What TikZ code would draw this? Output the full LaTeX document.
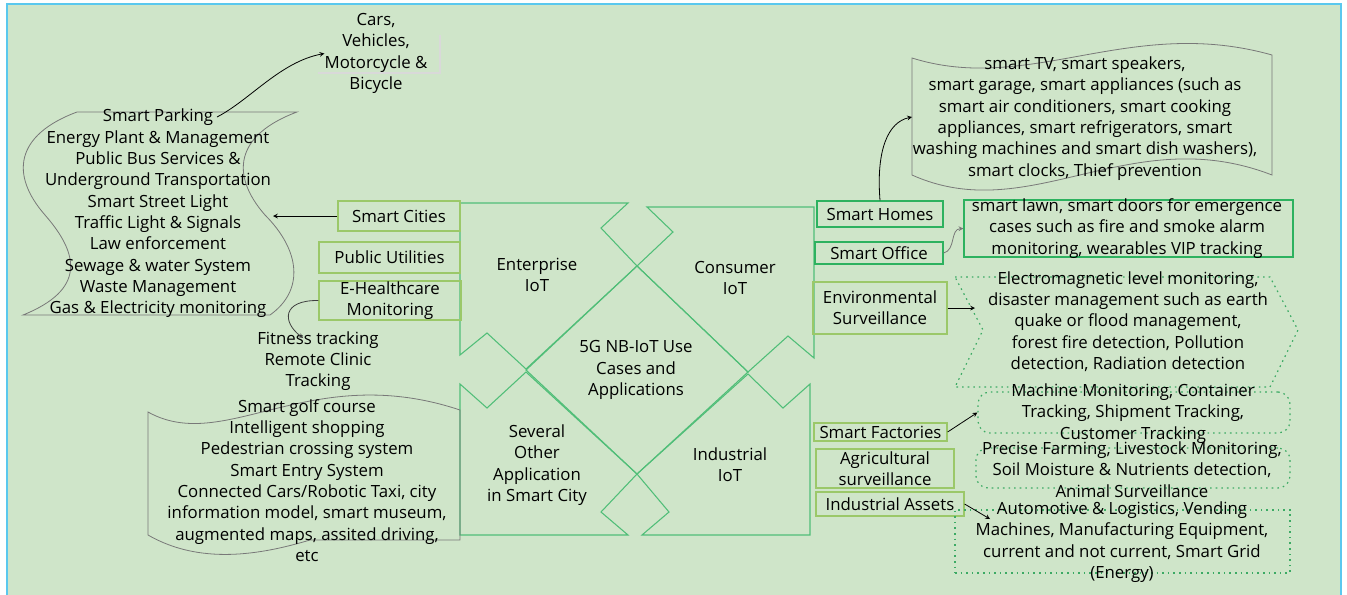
\documentclass[tikz,border=0pt]{standalone}
\usepackage{fontspec}
\setmainfont{Open Sans}
\usepackage{tikz}
\definecolor{bg}{RGB}{207,229,201}
\definecolor{frame}{RGB}{90,200,238}
\definecolor{qgreen}{RGB}{80,190,120}
\definecolor{bgreen}{RGB}{45,178,95}
\definecolor{ogreen}{RGB}{155,200,105}
\definecolor{dgreen}{RGB}{60,170,100}
\definecolor{wgray}{RGB}{120,120,120}

\begin{document}
\begin{tikzpicture}[x=0.75pt,y=-0.75pt]
\tikzstyle{txt}=[align=center,inner sep=0pt,font=\fontsize{12.6}{16}\selectfont]
\tikzstyle{quad}=[draw=qgreen,line width=0.8pt]
\tikzstyle{obox}=[txt,rectangle,draw=ogreen,line width=0.9pt]
\tikzstyle{gbox}=[txt,rectangle,draw=bgreen,line width=0.9pt]
\tikzstyle{dbox}=[draw=dgreen,line width=0.9pt,dash pattern=on 1.2pt off 3pt]
\tikzstyle{wave}=[draw=wgray,line width=0.6pt]
\tikzstyle{arr}=[-stealth,line width=0.6pt]
\useasboundingbox (0,0) rectangle (1347,594);
\clip (0,0) rectangle (1347,594);
\draw[fill=bg,draw=frame,line width=1.5pt] (7,4) rectangle (1341,610);

\draw[quad] (460,203) -- (628,203) -- (601,228) -- (637,266) -- (526,369) -- (487,333) -- (460,355) -- cycle;
\draw[quad] (647,207) -- (814,207) -- (814,358) -- (788,336) -- (748,372) -- (637,266) -- (673,232) -- cycle;
\draw[quad] (460,384) -- (487,408) -- (526,372) -- (637,474) -- (601,512) -- (628,535) -- (460,535) -- cycle;
\draw[quad] (642,535) -- (810,535) -- (810,384) -- (783,408) -- (748,374) -- (637,474) -- (669,512) -- cycle;
\draw[quad] (637,266) -- (748,372) -- (637,474) -- (526,370) -- cycle;

\node[txt] (ent) at (537,275) {Enterprise\\IoT};
\node[txt] (con) at (735,278) {Consumer\\IoT};
\node[txt] (core) at (636,370) {5G NB-IoT Use\\Cases and\\Applications};
\node[txt] (oth) at (537,465) {Several\\Other\\Application\\in Smart City};
\node[txt] (ind) at (730,465) {Industrial\\IoT};

\draw[wave] (77,112) -- (297,112) .. controls (235,135) and (230,175) .. (265,215)
  .. controls (300,250) and (305,290) .. (270,315) -- (23,315)
  .. controls (85,290) and (80,255) .. (45,215) .. controls (10,175) and (15,135) .. (77,112);
\coordinate (cityend) at (273,216);
\coordinate (park) at (217,117);
\node[txt] (citylist) at (158,213.5) {Smart Parking\\Energy Plant \& Management\\Public Bus Services \&\\Underground Transportation\\Smart Street Light\\Traffic Light \& Signals\\Law enforcement\\Sewage \& water System\\Waste Management\\Gas \& Electricity monitoring};

\draw[gray!30,line width=1.5pt] (318,73) -- (440,73) -- (440,35);
\node[txt] (cars) at (376,53.5) {Cars,\\Vehicles,\\Motorcycle \&\\Bicycle};

\node[obox,minimum width=91.5pt,minimum height=22.5pt] (cities) at (399,216) {Smart Cities};
\node[obox,minimum width=105.75pt,minimum height=23.25pt] (util) at (389.5,257.5) {Public Utilities};
\node[obox,minimum width=106.5pt,minimum height=29.25pt] (health) at (390,300.5) {E-Healthcare\\Monitoring};

\coordinate (fit) at (303,338);
\node[txt] (fitlist) at (318,361) {Fitness tracking\\Remote Clinic\\Tracking};

\draw[wave] (148,412) .. controls (225,455) and (310,360) .. (460,410) -- (460,540) -- (310,540)
  .. controls (260,555) and (200,565) .. (148,535) -- cycle;
\node[txt] (otherlist) at (307,480.5) {Smart golf course\\Intelligent shopping\\Pedestrian crossing system\\Smart Entry System\\Connected Cars/Robotic Taxi, city\\information model, smart museum,\\augmented maps, assited driving,\\etc};

\draw[wave] (912,58) .. controls (1030,95) and (1130,15) .. (1272,55) -- (1272,175)
  .. controls (1130,120) and (1030,228) .. (912,175) -- cycle;
\coordinate (tvin) at (912,117);
\node[txt] (homelist) at (1085,118.5) {smart TV, smart speakers,\\smart garage, smart appliances (such as\\smart air conditioners, smart cooking\\appliances, smart refrigerators, smart\\washing machines and smart dish washers),\\smart clocks, Thief prevention};

\node[gbox,minimum width=94.5pt,minimum height=19.5pt] (homes) at (880,214) {Smart Homes};
\node[gbox,minimum width=96pt,minimum height=16.5pt] (office) at (879,253) {Smart Office};
\node[gbox,minimum width=246.75pt,minimum height=42.75pt] (lawn) at (1128.5,228.5) {};
\node[txt] (lawntxt) at (1127,228.5) {smart lawn, smart doors for emergence\\cases such as fire and smoke alarm\\monitoring, wearables VIP tracking};

\node[obox,minimum width=100.5pt,minimum height=39pt] (env) at (880,308) {Environmental\\Surveillance};
\draw[dbox] (955,277) -- (1270,277) -- (1298,330) -- (1270,387) -- (955,387) -- (983,330) -- cycle;
\coordinate (envin) at (975,308);
\node[txt] (envtxt) at (1128,321.5) {Electromagnetic level monitoring,\\disaster management such as earth\\quake or flood management,\\forest fire detection, Pollution\\detection, Radiation detection};

\node[obox,minimum width=99.75pt,minimum height=13.5pt] (fact) at (880.5,432) {Smart Factories};
\node[obox,minimum width=103.5pt,minimum height=29.25pt] (agri) at (885,468.5) {Agricultural\\surveillance};
\node[obox,minimum width=111pt,minimum height=18pt] (assets) at (890,504) {Industrial Assets};

\node[dbox,rounded corners=9pt,minimum width=234pt,minimum height=30.75pt] (mach) at (1134,412.5) {};
\node[txt] (machtxt) at (1133,413.5) {Machine Monitoring, Container\\Tracking, Shipment Tracking,\\Customer Tracking};
\node[dbox,rounded corners=9pt,minimum width=235.5pt,minimum height=30pt] (farm) at (1133,468) {};
\node[txt] (farmtxt) at (1132,469.5) {Precise Farming, Livestock Monitoring,\\Soil Moisture \& Nutrients detection,\\Animal Surveillance};
\node[dbox,minimum width=251.25pt,minimum height=47.25pt] (auto) at (1122.5,541.5) {};
\coordinate (autoin) at (990,519);
\node[txt] (autotxt) at (1122,542) {Automotive \& Logistics, Vending\\Machines, Manufacturing Equipment,\\current and not current, Smart Grid\\(Energy)};

\draw[arr] (park) .. controls (250,100) and (280,62) .. (cars.west);
\draw[arr] (cities) -- (cityend);
\draw[arr,draw=black!75] (health.west) .. controls (282,300) and (282,322) .. (fit);
\draw[arr] (homes.north) .. controls (876,150) and (888,122) .. (tvin);
\draw[arr,draw=wgray] (office.east) .. controls (956,250) and (950,229) .. (lawn.west);
\draw[arr] (env) -- (envin);
\draw[arr] (fact.east) -- (mach.west);
\draw[arr] (assets.east) -- (autoin);
\end{tikzpicture}
\end{document}
